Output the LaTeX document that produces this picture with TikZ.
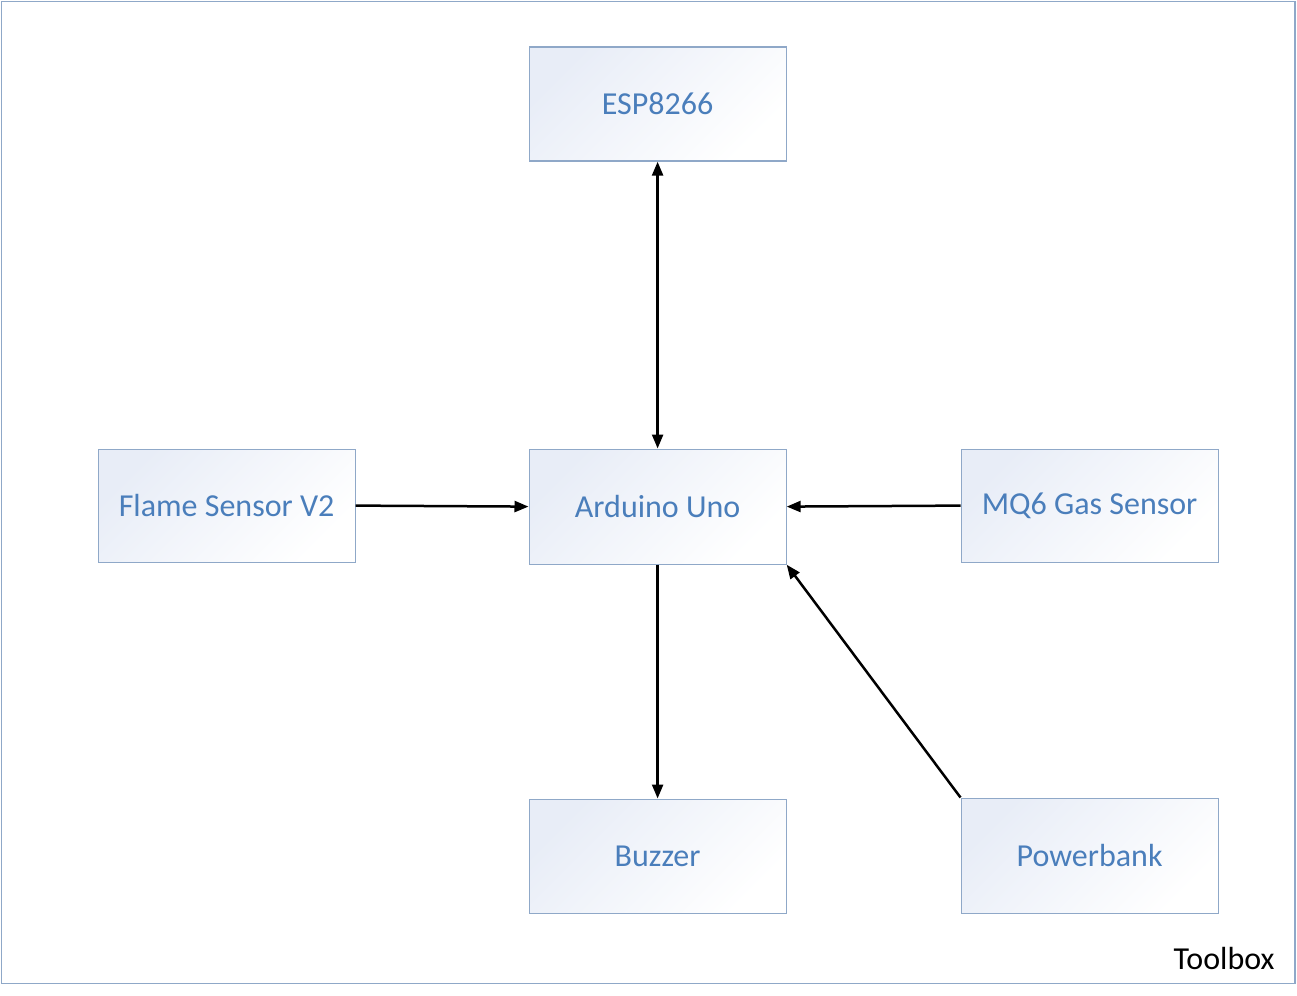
\documentclass[tikz,border=0pt]{standalone}
\usepackage{fontspec}
\setmainfont{Carlito}
\usetikzlibrary{arrows.meta}
\definecolor{txtblue}{HTML}{4A7EBB}
\definecolor{edgeblue}{HTML}{8FA8C8}
\definecolor{shadeblue}{HTML}{E8EDF7}
\begin{document}
\begin{tikzpicture}[x=1pt,y=-1pt,
  blockbox/.style={draw=edgeblue, line width=1.2pt, top color=shadeblue, bottom color=white, shading angle=45,
    minimum width=257pt, minimum height=114pt, inner sep=0pt, text=txtblue, font=\fontsize{32}{38}\selectfont, anchor=north west},
  conn/.style={line width=2.5pt, -{Triangle[length=14pt,width=11pt]}},
  biconn/.style={line width=2.5pt, {Triangle[length=14pt,width=11pt]}-{Triangle[length=14pt,width=11pt]}}]
\useasboundingbox (0,0) rectangle (1297,995);
\draw[edgeblue, line width=1.5pt] (1.5,1.5) rectangle (1295,983.5);
\node[blockbox] (esp) at (528.5,46.5) {ESP8266};
\node[blockbox, minimum height=115pt] (ard) at (528.5,448.5) {Arduino Uno};
\node[blockbox, minimum height=113pt] (flame) at (97.5,448.5) {Flame Sensor V2};
\node[blockbox, minimum height=113pt] (mq) at (960.5,448.5) {MQ6 Gas Sensor};
\node[blockbox] (buz) at (528.5,798.5) {Buzzer};
\node[blockbox, minimum height=115pt] (pow) at (960.5,797.5) {Powerbank};
\node[anchor=base east, font=\fontsize{32}{38}\selectfont] (tb) at (1278,969) {Toolbox};
\draw[biconn] (esp.south) -- (ard.north);
\draw[conn] (flame.east) -- (ard.west);
\draw[conn] (mq.west) -- (ard.east);
\draw[conn] (ard.south) -- (buz.north);
\draw[conn] (pow.north west) -- (ard.south east);
\end{tikzpicture}
\end{document}
